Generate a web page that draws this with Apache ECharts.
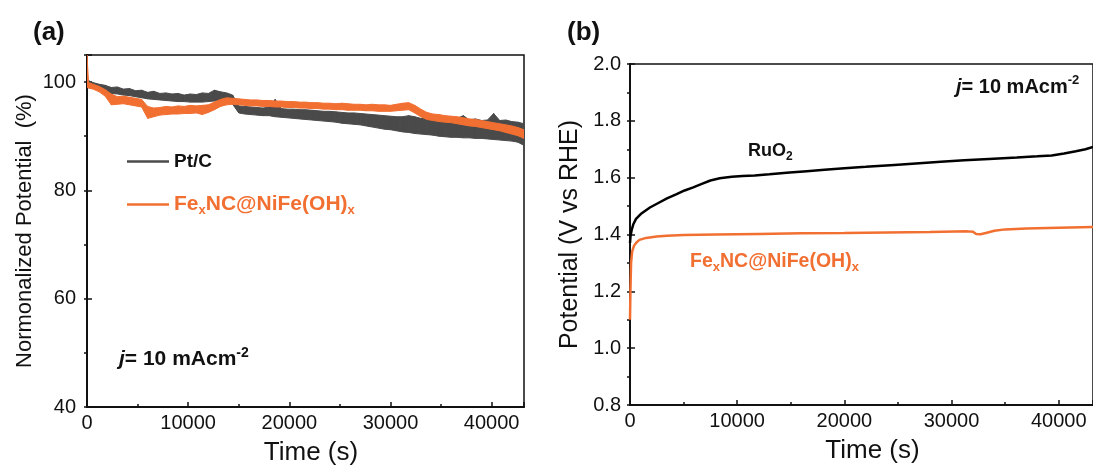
<!DOCTYPE html>
<html>
<head>
<meta charset="utf-8">
<script src="https://cdn.jsdelivr.net/npm/echarts@6/dist/echarts.min.js"></script>
<style>
html,body{margin:0;padding:0;background:#fff;}
#chart{width:1093px;height:473px;}
</style>
</head>
<body>
<div id="chart"></div>
<script>
// ---------- DATA ----------
// Panel (a): time (s) samples for the noisy bands
const timeA = [0,600,1200,1800,2400,3000,3600,4200,4800,5400,6000,6600,7200,7800,8400,9000,9600,10200,10800,11400,12000,12600,13200,13800,14400,15000,15600,16200,16800,17400,18000,18600,19200,19800,20400,21000,21600,22200,22800,23400,24000,24600,25200,25800,26400,27000,27600,28200,28800,29400,30000,30600,31200,31800,32400,33000,33600,34200,34800,35400,36000,36600,37200,37800,38400,39000,39600,40200,40800,41400,42000,42600,43200];
// Pt/C normalized potential (%) – lower / upper edge of the noisy trace
const ptcLow  = [99.0,98.9,98.6,98.2,97.9,97.8,97.6,97.5,97.3,97.1,96.9,96.8,96.7,96.6,96.5,96.4,96.4,96.3,96.3,96.3,96.4,96.5,96.6,96.4,95.9,94.3,94.1,94.0,93.9,93.8,93.8,93.6,93.5,93.4,93.3,93.2,93.1,93.0,92.9,92.8,92.7,92.6,92.4,92.3,92.2,92.1,91.9,91.7,91.5,91.3,91.2,91.0,90.8,90.7,90.5,90.4,90.3,90.2,90.0,89.9,89.8,89.8,89.7,89.7,89.6,89.6,89.5,89.4,89.3,89.2,89.1,88.9,88.3];
const ptcHigh = [100.4,99.9,99.6,99.4,99.0,99.1,98.7,98.8,98.4,98.5,98.1,98.3,97.9,98.0,97.8,97.9,97.6,97.8,97.7,98.0,97.9,98.5,98.2,98.0,97.6,95.6,95.5,95.4,95.3,95.2,95.4,96.8,95.1,95.0,95.0,94.9,94.9,94.8,94.7,94.6,94.6,94.5,94.4,94.3,94.3,94.2,94.1,94.0,93.9,93.8,93.7,93.6,93.6,93.8,93.6,93.3,93.4,93.3,93.6,93.2,93.5,93.3,93.8,93.0,93.2,92.9,93.0,94.2,92.9,93.0,92.7,92.6,92.3];
// FexNC@NiFe(OH)x normalized potential (%) – lower / upper edge
const timeFeA = [0,150,600,1200,1800,2400,3000,3600,4200,4800,5400,6000,6600,7200,7800,8400,9000,9600,10200,10800,11400,12000,12600,13200,13800,14400,15000,15600,16200,16800,17400,18000,18600,19200,19800,20400,21000,21600,22200,22800,23400,24000,24600,25200,25800,26400,27000,27600,28200,28800,29400,30000,30600,31200,31800,32400,33000,33600,34200,34800,35400,36000,36600,37200,37800,38400,39000,39600,40200,40800,41400,42000,42600,43200];
const feLow  = [99.0,98.9,98.7,98.2,97.4,95.8,95.9,96.0,95.8,95.6,95.4,93.3,93.6,93.9,94.0,94.1,94.1,94.2,94.2,94.3,94.0,94.4,94.9,95.5,95.8,95.9,95.8,95.7,95.6,95.6,95.5,95.5,95.4,95.4,95.3,95.3,95.2,95.2,95.1,95.1,95.0,95.0,94.9,94.9,94.8,94.8,94.8,94.7,94.7,94.6,94.6,94.6,94.7,94.8,94.9,94.3,93.6,93.1,92.9,92.7,92.6,92.5,92.3,92.1,91.9,91.8,91.6,91.4,91.2,91.0,90.7,90.4,90.1,89.6];
const feHigh = [105.0,99.9,99.6,99.2,98.6,97.8,97.3,97.4,97.2,97.0,96.8,95.5,95.2,95.3,95.5,95.4,95.6,95.5,95.7,95.6,95.7,95.8,96.3,96.8,97.1,97.0,96.9,96.8,96.7,96.7,96.6,96.6,96.5,96.5,96.4,96.4,96.3,96.3,96.2,96.2,96.1,96.1,96.0,96.1,96.0,95.9,95.9,95.8,95.9,95.8,95.8,95.7,95.9,96.1,96.2,95.7,95.0,94.4,94.1,94.0,93.8,93.7,93.6,93.4,93.2,93.1,92.9,92.7,92.5,92.3,92.1,91.9,91.6,91.2];

// Panel (b): potential (V vs RHE)
const timeRu = [0,50,150,300,560,1000,1860,2600,3450,4300,5100,5900,6700,7500,8370,9500,10500,11630,13000,14900,16500,18150,20000,22000,24660,27000,29000,31180,33500,36100,38000,39350,40500,41600,42500,43200];
const ruo2   = [1.370,1.395,1.415,1.435,1.455,1.472,1.495,1.510,1.527,1.541,1.555,1.566,1.578,1.590,1.598,1.603,1.606,1.608,1.612,1.618,1.623,1.628,1.633,1.638,1.645,1.651,1.656,1.661,1.666,1.671,1.675,1.678,1.685,1.693,1.700,1.708];
const timeFeB = [0,40,100,200,370,600,880,1500,2500,3450,5000,8000,12000,16000,20000,24000,28000,31500,32000,32300,32700,33200,34000,35000,37000,40000,43200];
const feB     = [1.100,1.200,1.300,1.340,1.360,1.372,1.381,1.388,1.393,1.396,1.398,1.400,1.402,1.404,1.405,1.407,1.409,1.411,1.410,1.402,1.401,1.405,1.413,1.418,1.421,1.424,1.426];

// Axis ticks
const xTicks = [0,10000,20000,30000,40000];
const yTicksA = [40,60,80,100];
const yTicksB = [0.8,1.0,1.2,1.4,1.6,1.8,2.0];

// ---------- STYLE ----------
const FONT = '"Liberation Sans", Arial, Helvetica, sans-serif';
const ORANGE = '#F26F32';
const GRAY = '#4A4A4A';
const INK = '#111111';

const pair = (xs, ys) => xs.map((x, i) => [x, ys[i]]);
// band segments: [t0, lo0, hi0, t1, lo1, hi1]
const bandSegs = (xs, lo, hi) => xs.slice(0, -1).map((x, i) => [x, lo[i], hi[i], xs[i + 1], lo[i + 1], hi[i + 1]]);

function bandRenderer(color) {
  return function (params, api) {
    const a = api.coord([api.value(0), api.value(1)]);
    const b = api.coord([api.value(3), api.value(4)]);
    const c = api.coord([api.value(3), api.value(5)]);
    const d = api.coord([api.value(0), api.value(2)]);
    const cs = params.coordSys;
    return {
      type: 'polygon',
      shape: {points: [a, b, c, d]},
      style: {fill: color, stroke: color, lineWidth: 1},
      clipPath: {type: 'rect', shape: {x: cs.x, y: cs.y, width: cs.width, height: cs.height}}
    };
  };
}

const chart = echarts.init(document.getElementById('chart'), null, {renderer: 'canvas'});

function mainX(gridIndex, namePad) {
  return {
    type: 'value', gridIndex, position: 'bottom', min: 0, max: 43200, interval: 10000,
    name: 'Time (s)', nameLocation: 'middle', nameGap: 33,
    nameTextStyle: {fontFamily: FONT, fontSize: 26, color: INK, padding: [0, 0, 0, namePad]},
    axisLine: {show: true, onZero: false, lineStyle: {color: INK, width: 2}},
    axisTick: {show: true, inside: true, length: 5, lineStyle: {color: INK, width: 1.5}},
    axisLabel: {show: true, margin: 6, fontFamily: FONT, fontSize: 20, color: INK,
      customValues: xTicks, formatter: v => String(v)},
    splitLine: {show: false}
  };
}
function minorX(gridIndex) {
  return {
    type: 'value', gridIndex, position: 'bottom', min: 0, max: 43200, interval: 5000,
    axisLine: {show: false}, axisLabel: {show: false}, splitLine: {show: false},
    axisTick: {show: true, inside: true, length: 3, lineStyle: {color: INK, width: 1.5}}
  };
}
function jLabel(left, top, size) {
  return {type: 'text', left, top, z: 100, style: {
    text: '{i|j}{b|= 10 mAcm}{p|-2}', fill: INK,
    rich: {
      i: {fontFamily: FONT, fontSize: size, fontWeight: 'bold', fontStyle: 'italic', fill: INK, lineHeight: size + 6},
      b: {fontFamily: FONT, fontSize: size, fontWeight: 'bold', fill: INK, lineHeight: size + 6},
      p: {fontFamily: FONT, fontSize: Math.round(size * 0.65), fontWeight: 'bold', fill: INK, lineHeight: 12, verticalAlign: 'top'}
    }}};
}

const option = {
  backgroundColor: '#ffffff',
  animation: false,
  textStyle: {fontFamily: FONT},
  grid: [
    {left: 87, top: 55, width: 437, height: 352, show: true, borderColor: INK, borderWidth: 1.5, backgroundColor: 'transparent', containLabel: false},
    {left: 630, top: 64, width: 464, height: 341, show: true, borderColor: INK, borderWidth: 1.5, backgroundColor: 'transparent', containLabel: false}
  ],
  xAxis: [
    mainX(0, 11), minorX(0),
    mainX(1, 22), minorX(1)
  ],
  yAxis: [
    {
      type: 'value', gridIndex: 0, min: 40, max: 105, interval: 20,
      name: 'Normonalized Potential  (%)', nameLocation: 'middle', nameGap: 51, nameRotate: 90,
      nameTextStyle: {fontFamily: FONT, fontSize: 22, color: INK},
      axisLine: {show: true, onZero: false, lineStyle: {color: INK, width: 2}},
      axisTick: {show: true, inside: true, length: 5, lineStyle: {color: INK, width: 1.5}},
      axisLabel: {margin: 11, fontFamily: FONT, fontSize: 20, color: INK, customValues: yTicksA,
        formatter: v => String(v)},
      splitLine: {show: false}
    },
    {
      type: 'value', gridIndex: 0, min: 40, max: 105, interval: 10,
      axisLine: {show: false}, axisLabel: {show: false}, splitLine: {show: false},
      axisTick: {show: true, inside: true, length: 3, lineStyle: {color: INK, width: 1.5}}
    },
    {
      type: 'value', gridIndex: 1, min: 0.8, max: 2.0, interval: 0.2,
      name: 'Potential (V vs RHE)', nameLocation: 'middle', nameGap: 47, nameRotate: 90,
      nameTextStyle: {fontFamily: FONT, fontSize: 25, color: INK},
      axisLine: {show: true, onZero: false, lineStyle: {color: INK, width: 2}},
      axisTick: {show: true, inside: true, length: 5, lineStyle: {color: INK, width: 1.5}},
      axisLabel: {margin: 9, fontFamily: FONT, fontSize: 20, color: INK, customValues: yTicksB,
        formatter: v => v.toFixed(1)},
      splitLine: {show: false}
    },
    {
      type: 'value', gridIndex: 1, min: 0.8, max: 2.0, interval: 0.1,
      axisLine: {show: false}, axisLabel: {show: false}, splitLine: {show: false},
      axisTick: {show: true, inside: true, length: 3, lineStyle: {color: INK, width: 1.5}}
    }
  ],
  legend: [
    {
      data: ['Pt/C'], left: 122, top: 147, orient: 'vertical', icon: 'rect',
      itemWidth: 42, itemHeight: 2.5,
      textStyle: {fontFamily: FONT, fontSize: 19, fontWeight: 'bold', color: INK}
    },
    {
      data: ['FexNC@NiFe(OH)x'], left: 122, top: 189, orient: 'vertical', icon: 'rect',
      itemWidth: 42, itemHeight: 2.5,
      formatter: () => '{n|Fe}{s|x}{n|NC@NiFe(OH)}{s|x}',
      textStyle: {fontFamily: FONT, fontSize: 21, fontWeight: 'bold', color: ORANGE,
        rich: {
          n: {fontFamily: FONT, fontSize: 21, fontWeight: 'bold', color: ORANGE, lineHeight: 25},
          s: {fontFamily: FONT, fontSize: 13, fontWeight: 'bold', color: ORANGE, lineHeight: 13, verticalAlign: 'bottom'}
        }}
    }
  ],
  graphic: [
    {type: 'text', left: 33, top: 20, style: {text: '(a)', fontFamily: FONT, fontSize: 26, fontWeight: 'bold', fill: INK}},
    {type: 'text', left: 567, top: 20, style: {text: '(b)', fontFamily: FONT, fontSize: 26, fontWeight: 'bold', fill: INK}},
    jLabel(119, 346, 21),
    jLabel(956, 74, 20),
    {type: 'text', left: 748, top: 142, z: 100, style: {
      text: '{b|RuO}{s|2}', fill: INK,
      rich: {
        b: {fontFamily: FONT, fontSize: 18, fontWeight: 'bold', fill: INK, lineHeight: 23},
        s: {fontFamily: FONT, fontSize: 12, fontWeight: 'bold', fill: INK, lineHeight: 12, verticalAlign: 'bottom'}
      }}},
    {type: 'text', left: 690, top: 252, z: 100, style: {
      text: '{b|Fe}{s|x}{b|NC@NiFe(OH)}{s|x}', fill: ORANGE,
      rich: {
        b: {fontFamily: FONT, fontSize: 19.5, fontWeight: 'bold', fill: ORANGE, lineHeight: 24},
        s: {fontFamily: FONT, fontSize: 13, fontWeight: 'bold', fill: ORANGE, lineHeight: 13, verticalAlign: 'bottom'}
      }}}
  ],
  series: [
    {
      name: 'Pt/C', type: 'custom', xAxisIndex: 0, yAxisIndex: 0,
      data: bandSegs(timeA, ptcLow, ptcHigh),
      encode: {x: [0, 3], y: [1, 2, 4, 5]},
      itemStyle: {color: GRAY},
      renderItem: bandRenderer(GRAY)
    },
    {
      name: 'FexNC@NiFe(OH)x', type: 'custom', xAxisIndex: 0, yAxisIndex: 0,
      data: bandSegs(timeFeA, feLow, feHigh),
      encode: {x: [0, 3], y: [1, 2, 4, 5]},
      itemStyle: {color: ORANGE},
      renderItem: bandRenderer(ORANGE)
    },
    {
      name: 'RuO2', type: 'line', xAxisIndex: 2, yAxisIndex: 2, symbol: 'none',
      data: pair(timeRu, ruo2), lineStyle: {color: '#000000', width: 2.5}, itemStyle: {color: '#000000'}
    },
    {
      name: 'FexNC@NiFe(OH)x (b)', type: 'line', xAxisIndex: 2, yAxisIndex: 2, symbol: 'none',
      data: pair(timeFeB, feB), lineStyle: {color: ORANGE, width: 2.5}, itemStyle: {color: ORANGE}
    }
  ]
};
chart.setOption(option);
</script>
</body>
</html>
